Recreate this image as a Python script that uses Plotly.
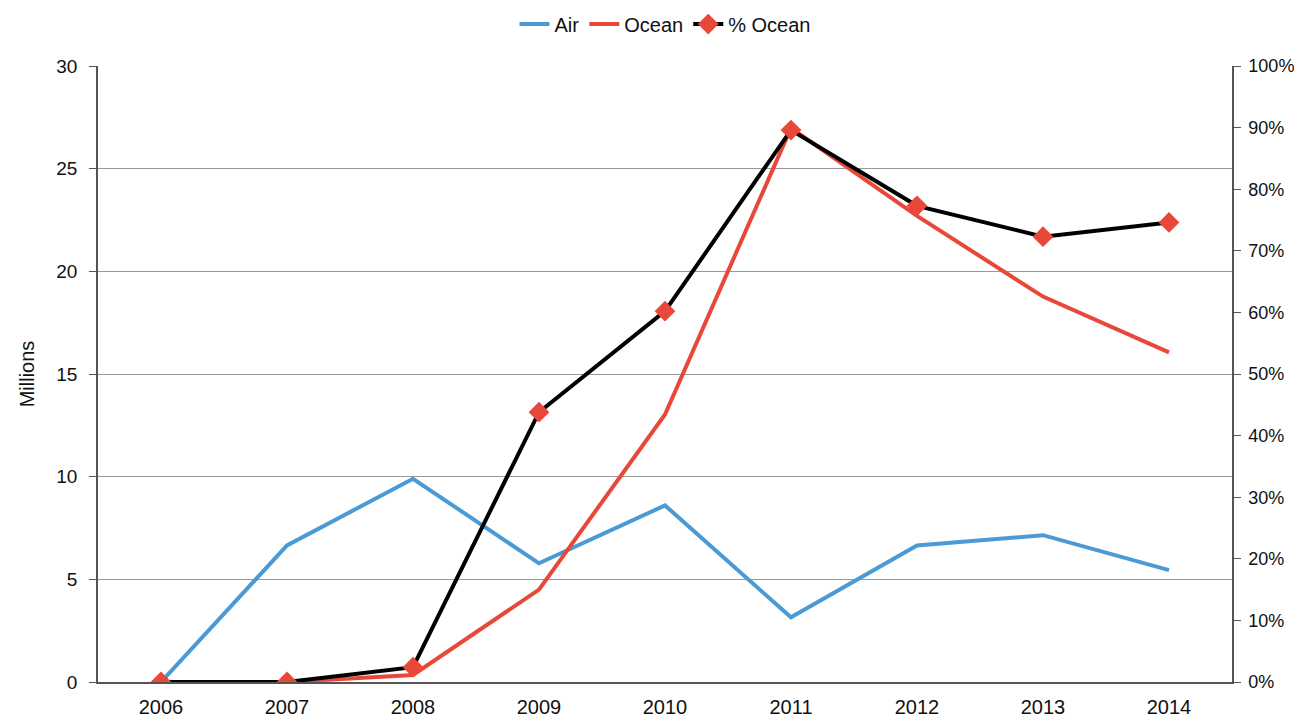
import plotly.graph_objects as go

years = ["2006", "2007", "2008", "2009", "2010", "2011", "2012", "2013", "2014"]
air = [0, 6.65, 9.9, 5.78, 8.6, 3.15, 6.65, 7.15, 5.45]
ocean = [0, 0, 0.34, 4.5, 13.03, 26.98, 22.7, 18.77, 16.05]
pct_ocean = [0, 0, 2.4, 43.8, 60.2, 89.6, 77.3, 72.3, 74.6]

font = "Liberation Sans, Arial, sans-serif"

fig = go.Figure()
fig.add_trace(go.Scatter(x=years, y=air, name="Air", mode="lines",
                         line=dict(color="#4a9ad6", width=4)))
fig.add_trace(go.Scatter(x=years, y=ocean, name="Ocean", mode="lines",
                         line=dict(color="#e8483a", width=4)))
fig.add_trace(go.Scatter(x=years, y=pct_ocean, name="% Ocean", mode="lines+markers",
                         yaxis="y2",
                         line=dict(color="#000000", width=4),
                         marker=dict(symbol="diamond", size=16, color="#e8483a")))

fig.update_layout(
    width=1302, height=718,
    paper_bgcolor="white", plot_bgcolor="white",
    margin=dict(l=90, r=78, t=58, b=44, autoexpand=False),
    font=dict(family=font, size=20, color="#111"),
    showlegend=True,
    legend=dict(orientation="h", x=0.5, xanchor="center", y=1.068, yanchor="middle",
                font=dict(size=20), traceorder="normal"),
    xaxis=dict(type="category", range=[-0.5, 8.5], showgrid=False,
               showline=True, linecolor="#555", linewidth=1.5,
               ticks="", tickfont=dict(size=20), ticklabelstandoff=6),
    yaxis=dict(range=[0, 30], dtick=5, showgrid=True, gridcolor="#999", gridwidth=1,
               showline=True, linecolor="#555", linewidth=1.5,
               ticks="outside", ticklen=7, tickcolor="#555", ticklabelstandoff=8,
               title=dict(text="Millions", font=dict(size=20), standoff=16),
               tickfont=dict(size=19), zeroline=False),
    yaxis2=dict(range=[0, 100], dtick=10, overlaying="y", side="right",
                showgrid=False, showline=True, linecolor="#555", linewidth=1.5,
                ticks="outside", ticklen=7, tickcolor="#555", ticksuffix="%",
                ticklabelstandoff=4,
                tickfont=dict(size=18), zeroline=False),
)

fig.write_html("out.html")
